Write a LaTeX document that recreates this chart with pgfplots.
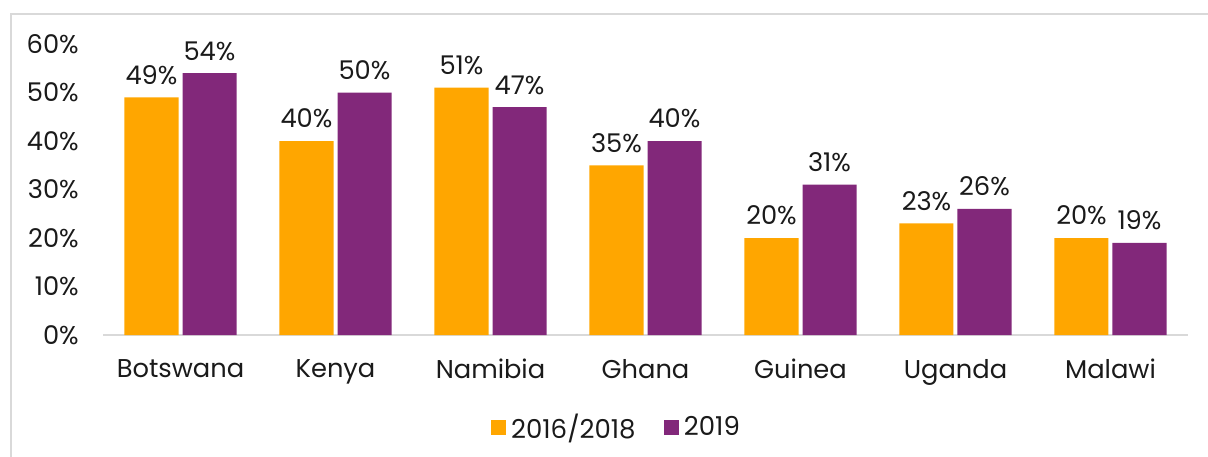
\documentclass[border=0pt]{standalone}
\usepackage{pgfplots}
\pgfplotsset{compat=1.18}
\usepackage{fontspec}
\setmainfont{Poppins}
\definecolor{c1}{HTML}{FFA600}
\definecolor{c2}{HTML}{82287A}
\definecolor{frame}{HTML}{D9D9D9}
\definecolor{txt}{HTML}{1A1A1A}
\begin{document}
\begin{tikzpicture}
\path[use as bounding box] (0pt,0pt) rectangle (906pt,-342.75pt);
\draw[frame, line width=1.5pt] (8.25pt,-400pt) -- (8.25pt,-10.5pt) -- (960pt,-10.5pt);
\begin{axis}[
  at={(77.25pt,-251.25pt)}, anchor=south west,
  scale only axis, width=813.75pt, height=218.25pt,
  ybar=3pt, bar width=40.5pt,
  xmin=-0.5, xmax=6.5, ymin=0, ymax=60,
  xtick=data,
  xticklabels={Botswana,Kenya,Namibia,Ghana,Guinea,Uganda,Malawi},
  ytick={0,10,20,30,40,50,60},
  yticklabel={\pgfmathprintnumber{\tick}\%},
  /pgf/number format/assume math mode=true,
  font=\fontsize{19.3}{22}\selectfont,
  every tick label/.append style={text=txt},
  yticklabel style={inner sep=0pt, xshift=-18pt},
  xticklabel style={inner sep=0pt, yshift=-18pt},
  major tick length=0pt,
  axis x line*=bottom, axis y line*=left,
  x axis line style={frame, line width=1.5pt, -},
  y axis line style={draw=none},
  clip=false,
  nodes near coords={\pgfmathprintnumber{\pgfplotspointmeta}\%},
  nodes near coords style={text=txt, anchor=south, yshift=6pt},
  legend columns=2,
  legend style={draw=none, fill=none, at={(0.4747,-0.316)}, anchor=center,
    font=\fontsize{19.5}{22}\selectfont, text=txt,
    /tikz/every even column/.append style={column sep=17pt},
    nodes={inner xsep=4pt}},
  legend image code/.code={\fill[#1] (0pt,-6.4pt) rectangle (11.25pt,4.85pt);},
]
\addplot[fill=c1, draw=none] coordinates {(0,49) (1,40) (2,51) (3,35) (4,20) (5,23) (6,20)};
\addplot[fill=c2, draw=none] coordinates {(0,54) (1,50) (2,47) (3,40) (4,31) (5,26) (6,19)};
\legend{2016/2018,2019}
\end{axis}
\end{tikzpicture}
\end{document}
